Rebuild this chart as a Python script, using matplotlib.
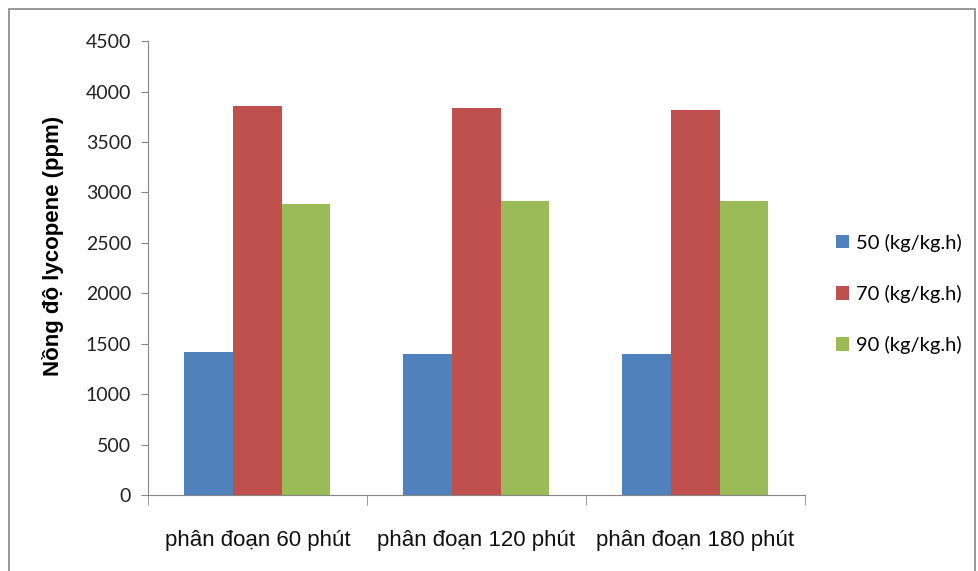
import numpy as np
import matplotlib.pyplot as plt
from matplotlib.patches import Rectangle

categories = ["phân đoạn 60 phút", "phân đoạn 120 phút", "phân đoạn 180 phút"]
series_names = ["50 (kg/kg.h)", "70 (kg/kg.h)", "90 (kg/kg.h)"]
v50 = [1415, 1400, 1400]
v70 = [3855, 3840, 3815]
v90 = [2890, 2915, 2915]
colors = ["#4f81bd", "#c0504d", "#9bbb59"]

fig = plt.figure(figsize=(9.79, 5.71), dpi=100)
ax = fig.add_axes([0.151, 0.133, 0.671, 0.795])

x = np.arange(len(categories))
w = 0.222
for i, (vals, name) in enumerate(zip([v50, v70, v90], series_names)):
    ax.bar(x + (i - 1) * w, vals, width=w, color=colors[i], label=name,
           edgecolor="none")

ax.set_xlim(-0.5, 2.5)
ax.set_ylim(0, 4500)
ax.set_yticks(np.arange(0, 4501, 500))
ax.tick_params(axis="y", direction="out", length=5, color="#868686",
               labelsize=14, labelcolor="#222222", pad=7)
for t in ax.get_yticklabels():
    t.set_family(["Lato", "DejaVu Sans"])

ax.set_xticks(x)
ax.set_xticklabels(categories, family=["Liberation Sans Narrow", "Liberation Sans"],
                   fontsize=16, color="#111111")
ax.tick_params(axis="x", length=0, pad=25)
ax.set_xticks([-0.5, 0.5, 1.5, 2.5], minor=True)
ax.tick_params(axis="x", which="minor", direction="out", length=7, color="#868686")

for s in ["top", "right"]:
    ax.spines[s].set_visible(False)
for s in ["left", "bottom"]:
    ax.spines[s].set_color("#868686")

ax.set_ylabel("Nồng độ lycopene (ppm)", family="Liberation Sans", fontweight="bold",
              fontsize=16)
ax.yaxis.set_label_coords(-0.128, 0.548)

leg = ax.legend(loc="center left", bbox_to_anchor=(1.02, 0.443), frameon=False,
                prop={"family": ["Lato", "DejaVu Sans"], "size": 14.5},
                handlelength=0.65, handleheight=0.65, handletextpad=0.35,
                labelspacing=1.65)

fig.patches.append(Rectangle((0.009, -0.02), 0.987, 1.004, transform=fig.transFigure,
                             fill=False, edgecolor="#868686", linewidth=1.2))

fig.savefig("out.png", dpi=100)
